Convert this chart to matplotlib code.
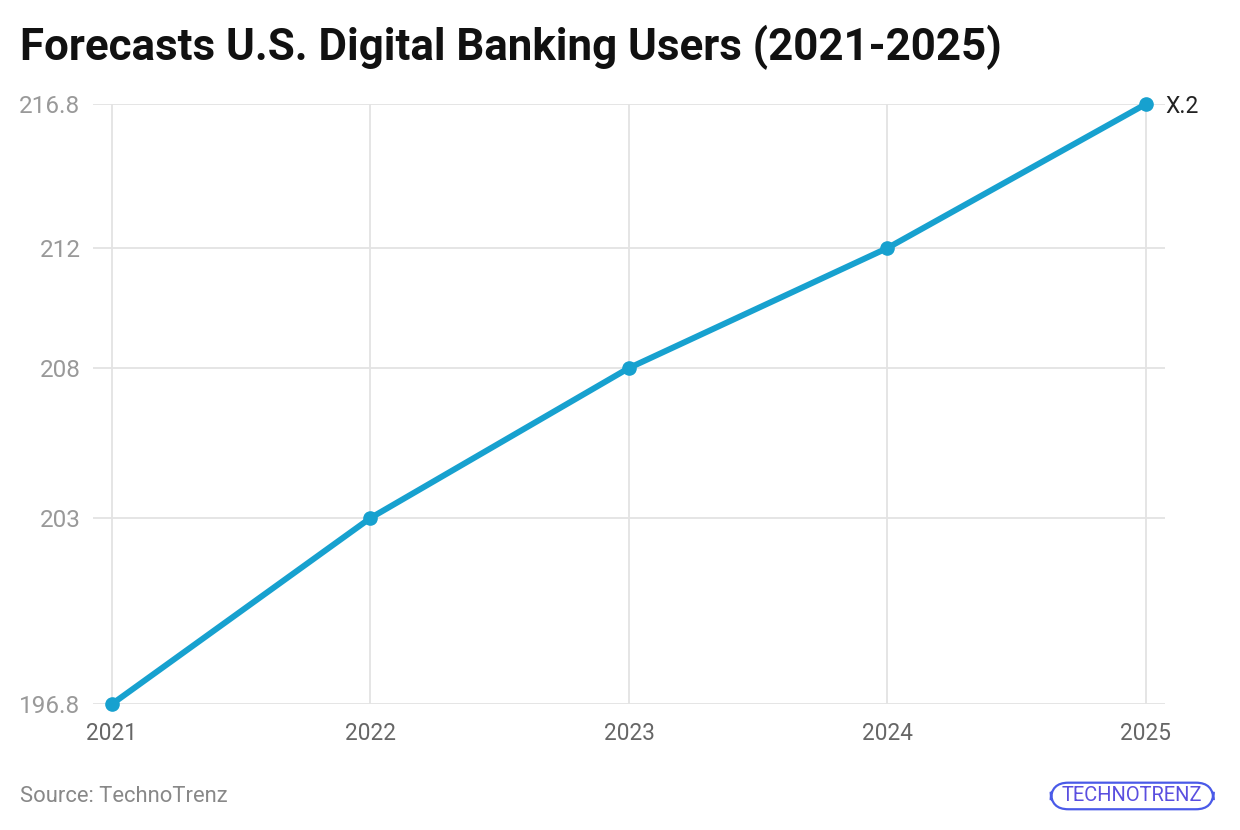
import matplotlib.pyplot as plt
from matplotlib.patches import FancyBboxPatch

plt.rcParams['font.family'] = ['Roboto', 'DejaVu Sans']

# Data
years = [2021, 2022, 2023, 2024, 2025]
users = [196.8, 203, 208, 212, 216.8]
y_ticks = [196.8, 203, 208, 212, 216.8]
y_labels = ['196.8', '203', '208', '212', '216.8']
series_label = 'X.2'

line_color = '#17a1cf'
grid_color = '#e3e3e3'

fig = plt.figure(figsize=(12.4, 8.3), dpi=100)
ax = fig.add_axes([0.075, 0.1518, 0.8645, 0.7229])

ax.plot(years, users, color=line_color, linewidth=4.3, marker='o',
        markersize=9.5, clip_on=False, zorder=3)

pad = 0.0735
ax.set_xlim(years[0] - pad, years[-1] + pad)
ax.set_ylim(y_ticks[0], y_ticks[-1])
ax.set_xticks(years)
ax.set_xticklabels([str(y) for y in years], color='#666666', fontsize=16.3)
ax.set_yticks(y_ticks)
ax.set_yticklabels(y_labels, color='#999999', fontsize=17.5)
ax.tick_params(axis='x', length=0, pad=13)
ax.tick_params(axis='y', length=0, pad=9)
ax.grid(True, color=grid_color, linewidth=1.3)
ax.set_axisbelow(True)
for s in ax.spines.values():
    s.set_visible(False)

# end label
ax.annotate(series_label, (years[-1], users[-1]), xytext=(14, -2),
            textcoords='offset points', va='center', ha='left',
            fontsize=16.5, color='#222222', annotation_clip=False)

fig.text(0.016, 0.943, 'Forecasts U.S. Digital Banking Users (2021-2025)',
         fontsize=31.6, fontweight='bold', color='#111111', va='center', ha='left')
fig.text(0.016, 0.04, 'Source: TechnoTrenz', fontsize=15.8, color='#888888',
         va='center', ha='left')

# logo
box = FancyBboxPatch((0.8475, 0.025), 0.131, 0.032, boxstyle='round,pad=0,rounding_size=0.014',
                     transform=fig.transFigure, facecolor='white', edgecolor='#4a5ae8',
                     linewidth=1.6, mutation_aspect=1.5)
fig.patches.append(box)
fig.text(0.9125, 0.041, 'TECHNOTRENZ', fontsize=14.5, color='#5a4fe0',
         va='center', ha='center')

fig.savefig('out.png', dpi=100)
